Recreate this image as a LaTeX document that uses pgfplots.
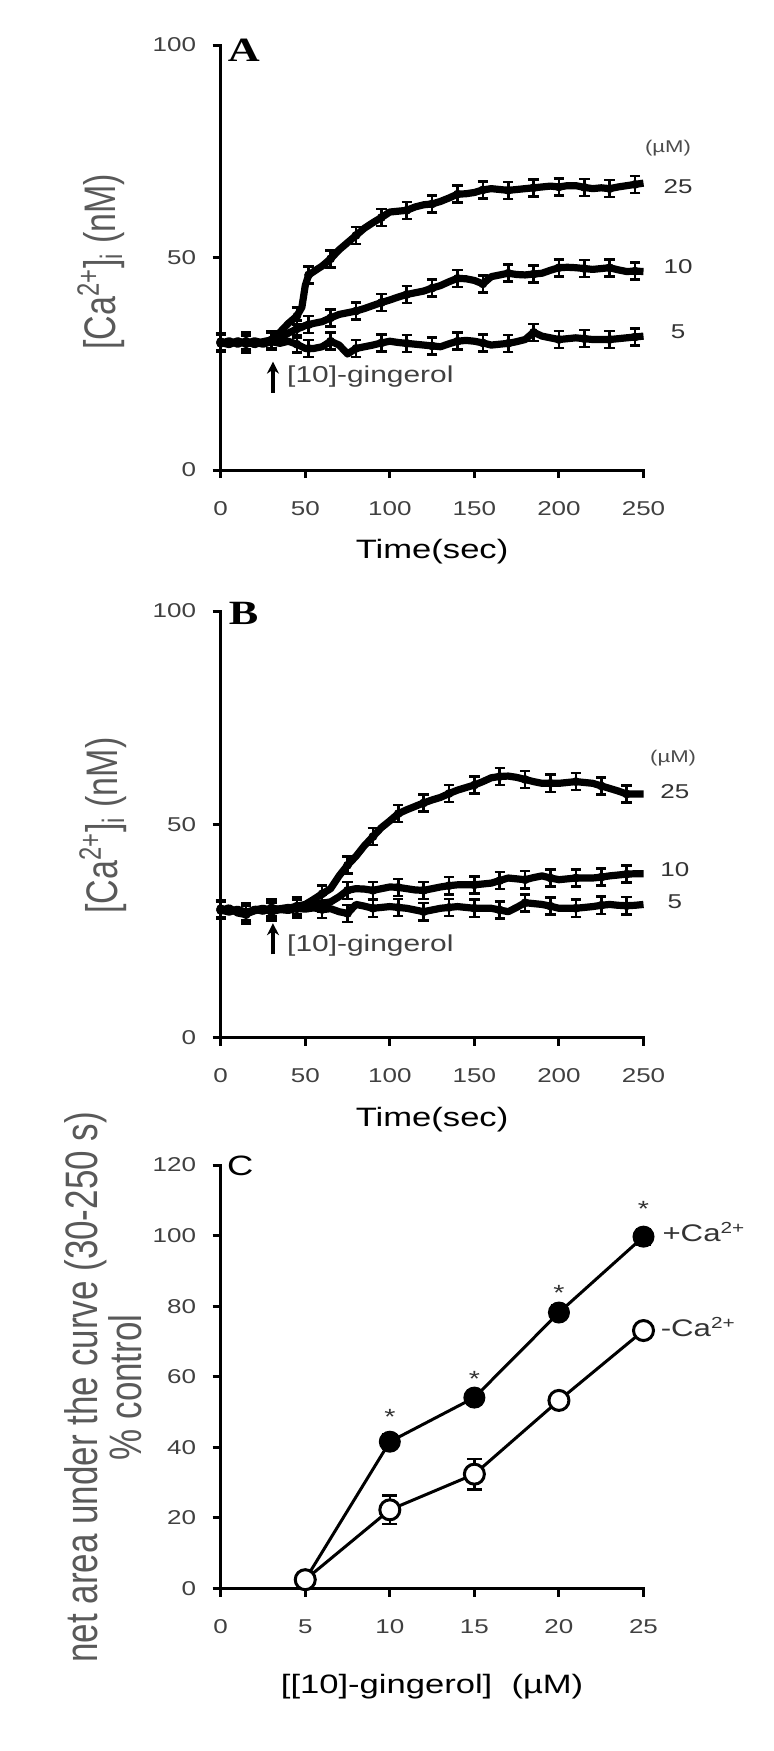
\documentclass[border=0pt]{standalone}
\usepackage{fontspec}
\setmainfont{Liberation Sans}[FakeStretch=1.3]
\newfontfamily\plainsans{Liberation Sans}
\newfontfamily\letterfont{Liberation Serif}[FakeStretch=1.3]
\usepackage{pgfplots}
\usepackage{pgfplotstable}
\pgfplotsset{compat=1.18}
\usetikzlibrary{arrows.meta}

\pgfplotstableread{
t c25 c10 c5
0 29.8 30.2 30.0
5 30.4 29.7 29.5
10 29.6 30.3 30.4
15 30.3 29.8 29.7
20 29.5 30.4 30.1
25 30.2 29.9 29.6
30 30.6 30.3 30.2
35 32.4 31.0 29.8
40 34.5 32.2 30.3
45 36.2 33.2 29.6
48 38.3 33.6 29.0
50 43.4 34.0 28.6
52 45.9 34.2 28.6
55 46.7 34.5 28.6
60 48.0 34.9 29.0
65 49.7 35.8 30.3
70 51.8 36.6 29.4
75 53.5 37.0 27.3
80 55.2 37.4 28.6
85 56.9 38.0 29.0
90 58.2 38.7 29.4
95 59.4 39.4 29.9
100 60.7 40.0 30.3
105 60.9 40.7 30.0
110 61.1 41.3 29.8
115 61.9 41.7 29.6
120 62.4 42.1 29.4
125 62.6 42.8 29.2
130 63.2 43.4 29.0
135 64.0 44.3 29.7
140 64.9 45.1 30.3
145 65.0 45.0 30.5
150 65.3 44.6 30.3
155 65.9 43.8 29.9
160 66.2 45.5 29.4
165 66.0 45.9 29.6
170 65.8 46.3 29.8
175 66.0 46.0 30.2
180 66.2 45.9 30.7
185 66.4 46.1 32.4
190 66.6 46.3 31.5
195 66.8 47.0 31.1
200 66.6 47.6 30.7
205 66.9 47.7 30.9
210 66.9 47.6 31.1
215 66.5 47.4 30.9
220 66.2 47.2 30.7
225 66.4 47.4 30.7
230 66.2 47.6 30.7
235 66.6 47.1 30.9
240 66.9 46.7 31.1
245 67.2 46.8 31.3
250 67.5 46.7 31.5
}\dataA

\pgfplotstableread{
t c25 c10 c5
0 29.8 30.2 29.9
5 30.4 29.6 29.4
10 29.2 30.0 30.1
15 28.8 29.4 29.0
20 30.1 29.9 29.7
25 29.6 30.3 30.2
30 30.4 29.8 29.5
35 30.0 30.2 30.0
40 30.3 30.5 29.8
45 30.8 30.2 30.3
50 31.2 30.6 30.1
55 32.4 31.0 30.4
60 33.7 31.5 30.0
65 34.9 31.8 30.2
70 37.9 33.0 29.5
75 40.4 34.5 29.1
80 42.5 34.9 31.2
85 45.0 34.8 30.8
90 47.1 34.5 30.3
95 49.2 34.9 30.5
100 50.8 35.3 30.7
105 52.5 35.2 30.5
110 53.4 34.9 30.3
115 54.2 34.6 29.9
120 55.0 34.5 29.5
125 55.7 34.9 29.9
130 56.3 35.3 30.3
135 57.2 35.6 30.5
140 58.0 35.8 30.7
145 58.6 35.8 30.5
150 59.2 35.8 30.3
155 60.0 36.0 30.3
160 60.9 36.2 30.3
165 61.2 36.8 29.9
170 61.3 37.4 29.5
175 61.0 37.2 30.5
180 60.5 37.0 31.6
185 60.0 37.5 31.4
190 59.6 37.9 31.2
195 59.6 37.4 30.8
200 59.6 37.0 30.3
205 59.8 37.2 30.3
210 60.0 37.4 30.3
215 59.8 37.4 30.5
220 59.6 37.4 30.7
225 59.0 37.6 31.0
230 58.4 37.9 31.2
235 57.8 38.1 31.0
240 57.1 38.3 30.9
245 57.1 38.4 31.0
250 57.1 38.4 31.2
}\dataB

\pgfplotstableread{
x plus eplus minus eminus
5 2.5 1.5 2.5 1.5
10 41.6 2.0 22.3 4.0
15 54.1 2.0 32.4 4.3
20 78.2 2.0 53.3 2.0
25 99.7 2.2 73.1 2.0
}\dataC

\pgfplotstableread{
x y
10 48.7
15 59.3
20 83.7
25 107.6
}\stars

\pgfplotsset{
  panel/.style={
    scale only axis, width=211.4pt,
    axis lines=left, axis line style={-, line width=1.5pt, line cap=rect},
    tick align=outside, major tick length=4pt,
    tick style={line width=1.5pt, black},
    /pgf/number format/assume math mode=true,
    tick label style={font=\fontsize{10}{11}\selectfont, text=black!75},
    xticklabel style={yshift=-8pt},
    yticklabel style={xshift=-4.8pt},
    clip=false,
    xlabel style={at={(axis description cs:0.5,0)}, anchor=center, font=\fontsize{13.3}{15}\selectfont},
    ylabel style={anchor=center, text=black!65},
    filter discard warning=false,
  },
  trace/.style={line width=3.6pt, black, mark=none, line join=round},
  ebars/.style={black, only marks, mark=none, forget plot, each nth point=3,
    error bars/.cd, y dir=both, y fixed=2.0,
    error bar style={line width=1.3pt, black},
    error mark options={rotate=90, mark size=2.6pt, line width=1.3pt, black}},
}

\begin{document}
\begin{tikzpicture}
\path[use as bounding box] (0pt,0pt) rectangle (387pt,-875.5pt);

% ---------------- Panel A ----------------
\begin{axis}[panel, at={(110.35pt,-235pt)}, anchor=south west, height=212.5pt,
  xmin=0, xmax=250, ymin=0, ymax=100,
  xtick={0,50,...,250}, ytick={0,50,100},
  xlabel={Time(sec)}, xlabel style={yshift=-41pt},
  ylabel={\plainsans\fontsize{17}{20}\selectfont\scalebox{1}[1.3]{[Ca\textsuperscript{2+}]\textsubscript{i} (nM)}},
  ylabel style={at={(axis description cs:-0.2838,0.49)}}]
\addplot[trace] table[x=t, y=c5]{\dataA};
\addplot[trace] table[x=t, y=c10]{\dataA};
\addplot[trace] table[x=t, y=c25]{\dataA};
\addplot[ebars] table[x=t, y=c5]{\dataA};
\addplot[ebars] table[x=t, y=c10]{\dataA};
\addplot[ebars] table[x=t, y=c25]{\dataA};
\node[font=\fontsize{17}{17}\selectfont\letterfont\bfseries] at (rel axis cs:0.055,0.987) {A};
\node[font=\fontsize{8.5}{9}\selectfont, text=black!70] at (axis cs:264.5,75.8) {(µM)};
\node[font=\fontsize{10}{11}\selectfont, text=black!80] at (axis cs:270.4,66.6) {25};
\node[font=\fontsize{10}{11}\selectfont, text=black!80] at (axis cs:270.4,47.8) {10};
\node[font=\fontsize{10}{11}\selectfont, text=black!80] at (axis cs:270.4,32.5) {5};
\draw[-{Stealth[length=6pt,width=6pt]}, line width=2pt] (axis cs:30.9,18.2) -- (axis cs:30.9,25.5);
\node[anchor=west, inner sep=0pt, font=\fontsize{11.5}{13}\selectfont, text=black!75] at (axis cs:39.1,21.9) {[10]-gingerol};
\end{axis}

% ---------------- Panel B ----------------
\begin{axis}[panel, at={(110.35pt,-518.75pt)}, anchor=south west, height=213.25pt,
  xmin=0, xmax=250, ymin=0, ymax=100,
  xtick={0,50,...,250}, ytick={0,50,100},
  xlabel={Time(sec)}, xlabel style={yshift=-41pt},
  ylabel={\plainsans\fontsize{17}{20}\selectfont\scalebox{1}[1.3]{[Ca\textsuperscript{2+}]\textsubscript{i} (nM)}},
  ylabel style={at={(axis description cs:-0.279,0.497)}}]
\addplot[trace] table[x=t, y=c5]{\dataB};
\addplot[trace] table[x=t, y=c10]{\dataB};
\addplot[trace] table[x=t, y=c25]{\dataB};
\addplot[ebars] table[x=t, y=c5]{\dataB};
\addplot[ebars] table[x=t, y=c10]{\dataB};
\addplot[ebars] table[x=t, y=c25]{\dataB};
\node[font=\fontsize{17}{17}\selectfont\letterfont\bfseries] at (rel axis cs:0.054,0.994) {B};
\node[font=\fontsize{8.5}{9}\selectfont, text=black!70] at (axis cs:267.5,65.5) {(µM)};
\node[font=\fontsize{10}{11}\selectfont, text=black!80] at (axis cs:268.5,57.6) {25};
\node[font=\fontsize{10}{11}\selectfont, text=black!80] at (axis cs:268.5,39.3) {10};
\node[font=\fontsize{10}{11}\selectfont, text=black!80] at (axis cs:268.5,31.8) {5};
\draw[-{Stealth[length=6pt,width=6pt]}, line width=2pt] (axis cs:30.9,19.5) -- (axis cs:30.9,26.8);
\node[anchor=west, inner sep=0pt, font=\fontsize{11.5}{13}\selectfont, text=black!75] at (axis cs:39.1,21.5) {[10]-gingerol};
\end{axis}

% ---------------- Panel C ----------------
\begin{axis}[panel, at={(110.35pt,-794.25pt)}, anchor=south west, height=211.75pt,
  xmin=0, xmax=25, ymin=0, ymax=120,
  xtick={0,5,...,25}, ytick={0,20,...,120},
  xlabel={[[10]-gingerol]\ \ (µM)}, xlabel style={yshift=-49pt},
  ylabel={\plainsans\fontsize{17.5}{14.6}\selectfont\scalebox{1}[1.3]{\begin{tabular}{@{}c@{}}net area under the curve (30-250 s)\\ \% control\end{tabular}}},
  ylabel style={at={(axis description cs:-0.2642,0.475)}}]
\addplot[black, line width=1.5pt, mark=*, mark size=5pt, mark options={fill=black, draw=black, line width=1pt},
  error bars/.cd, y dir=both, y explicit, error bar style={line width=1.3pt},
  error mark options={rotate=90, mark size=3.75pt, line width=1.3pt}]
  table[x=x, y=plus, y error=eplus]{\dataC};
\addplot[black, line width=1.5pt, mark=*, mark size=5pt, mark options={fill=white, draw=black, line width=1.5pt},
  error bars/.cd, y dir=both, y explicit, error bar style={line width=1.3pt},
  error mark options={rotate=90, mark size=3.75pt, line width=1.3pt}]
  table[x=x, y=minus, y error=eminus]{\dataC};
\addplot[only marks, mark=none, nodes near coords={*},
  every node near coord/.append style={anchor=center, inner sep=0pt, font=\fontsize{11}{11}\selectfont, text=black!80}]
  table[x=x, y=y]{\stars};
\node[font=\fontsize{14}{14}\selectfont] at (rel axis cs:0.046,0.998) {C};
\node[anchor=base west, inner sep=0pt, font=\fontsize{12}{13}\selectfont, text=black!80] at (axis cs:26.1,98.2) {+Ca\textsuperscript{2+}};
\node[anchor=base west, inner sep=0pt, font=\fontsize{12}{13}\selectfont, text=black!80] at (axis cs:26.0,71.3) {-Ca\textsuperscript{2+}};
\end{axis}
\end{tikzpicture}
\end{document}
